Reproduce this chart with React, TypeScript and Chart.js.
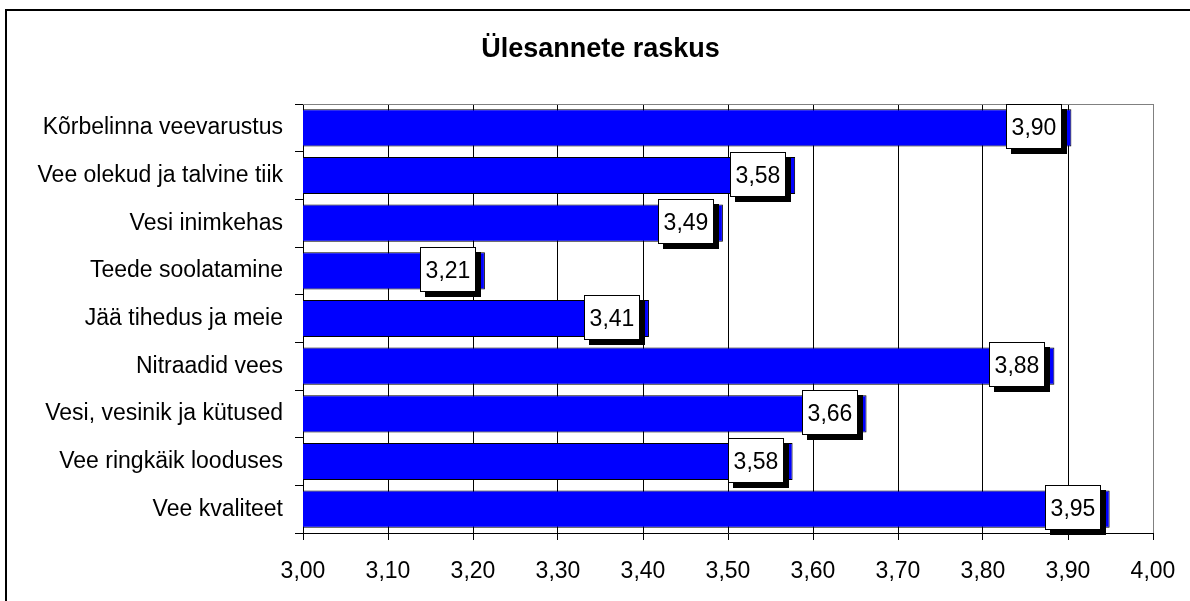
import React, { useEffect, useRef } from "react";
import { Chart, registerables } from "chart.js";

Chart.register(...registerables);

const TITLE = "Ülesannete raskus";
const categories = [
  "Kõrbelinna veevarustus",
  "Vee olekud ja talvine tiik",
  "Vesi inimkehas",
  "Teede soolatamine",
  "Jää tihedus ja meie",
  "Nitraadid vees",
  "Vesi, vesinik ja kütused",
  "Vee ringkäik looduses",
  "Vee kvaliteet",
];
const values = [3.904, 3.579, 3.494, 3.214, 3.407, 3.884, 3.663, 3.576, 3.949];
const xMin = 3.0;
const xMax = 4.0;
const xStep = 0.1;

const FONT = "'Liberation Sans', Arial, sans-serif";
const fmt = (v: number) => v.toFixed(2).replace(".", ",");

const decorPlugin = {
  id: "decor",
  beforeDraw(chart: any) {
    const ctx = chart.ctx;
    ctx.save();
    ctx.fillStyle = "#ffffff";
    ctx.fillRect(0, 0, chart.width, chart.height);
    ctx.strokeStyle = "#000000";
    ctx.lineWidth = 2;
    ctx.strokeRect(6, 10, chart.width + 50, chart.height + 50);
    ctx.fillStyle = "#000000";
    ctx.font = `bold 27px ${FONT}`;
    ctx.textAlign = "center";
    ctx.textBaseline = "alphabetic";
    ctx.fillText(TITLE, 600.5, 57);
    ctx.restore();
  },
  afterDatasetsDraw(chart: any) {
    const ctx = chart.ctx;
    const area = chart.chartArea;
    ctx.save();
    ctx.strokeStyle = "#808080";
    ctx.lineWidth = 1;
    ctx.beginPath();
    ctx.moveTo(area.left, area.top + 0.5);
    ctx.lineTo(area.right + 0.5, area.top + 0.5);
    ctx.lineTo(area.right + 0.5, area.bottom);
    ctx.stroke();

    const meta = chart.getDatasetMeta(0);
    ctx.font = `23px ${FONT}`;
    meta.data.forEach((bar: any, i: number) => {
      const text = fmt(values[i]);
      const tw = ctx.measureText(text).width;
      const w = Math.round(tw + 10);
      const h = 44;
      const right = Math.round(bar.x) - 10;
      const left = right - w;
      const top = Math.round(bar.y) - 24;
      ctx.fillStyle = "#000000";
      ctx.fillRect(left + 5, top + 5, w + 1, h + 1);
      ctx.fillStyle = "#ffffff";
      ctx.fillRect(left, top, w, h);
      ctx.strokeStyle = "#000000";
      ctx.lineWidth = 1;
      ctx.strokeRect(left + 0.5, top + 0.5, w, h);
      ctx.fillStyle = "#000000";
      ctx.textAlign = "center";
      ctx.textBaseline = "alphabetic";
      ctx.fillText(text, left + w / 2 + 0.5, top + 31);
    });
    ctx.restore();
  },
};

export default function App() {
  const ref = useRef<HTMLCanvasElement | null>(null);
  useEffect(() => {
    if (!ref.current) return;
    const chart = new Chart(ref.current, {
      type: "bar",
      data: {
        labels: categories,
        datasets: [
          {
            data: values,
            backgroundColor: "#0000ff",
            borderColor: "#000000",
            borderWidth: 1,
            borderSkipped: false,
            barPercentage: 0.78,
            categoryPercentage: 1,
          },
        ],
      },
      options: {
        indexAxis: "y",
        animation: false,
        responsive: false,
        devicePixelRatio: 1,
        layout: { padding: { left: 0, top: 104, right: 37, bottom: 0 } },
        plugins: {
          legend: { display: false },
          title: { display: false },
          tooltip: { enabled: false },
        },
        scales: {
          x: {
            type: "linear",
            min: xMin,
            max: xMax,
            ticks: {
              stepSize: xStep,
              color: "#000000",
              font: { family: FONT, size: 23 },
              padding: 18,
              callback: (v: any) => fmt(Number(v)),
            },
            grid: {
              color: (c: any) =>
                c.tick && Math.abs(c.tick.value - xMax) < 1e-6 ? "#808080" : "#000000",
              lineWidth: 1,
              drawTicks: true,
              tickLength: 7,
              tickColor: "#000000",
            },
            border: { color: "#000000", width: 1 },
            afterFit: (s: any) => {
              s.height = 68;
              s.paddingLeft = 0;
              s.paddingRight = 0;
            },
          },
          y: {
            type: "category",
            ticks: {
              color: "#000000",
              font: { family: FONT, size: 23 },
              padding: 12,
              autoSkip: false,
            },
            grid: {
              offset: true,
              drawOnChartArea: false,
              drawTicks: true,
              tickLength: 8,
              color: "#000000",
            },
            border: { color: "#000000", width: 1 },
            afterFit: (s: any) => {
              s.width = 303;
              s.paddingTop = 0;
              s.paddingBottom = 0;
            },
          },
        },
      },
      plugins: [decorPlugin],
    } as any);
    return () => chart.destroy();
  }, []);
  return (
    <div style={{ position: "fixed", left: 0, top: 0, width: 1190, height: 601 }}>
      <canvas ref={ref} width={1190} height={601} style={{ width: 1190, height: 601, display: "block" }} />
    </div>
  );
}
